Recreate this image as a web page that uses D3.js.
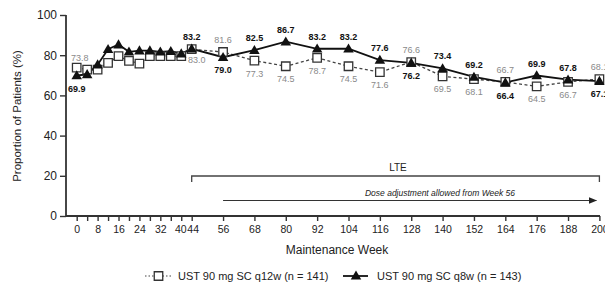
<!DOCTYPE html>
<html><head><meta charset="utf-8">
<script src="https://cdn.jsdelivr.net/npm/d3@7"></script>
<style>
html,body{margin:0;padding:0;background:#fff;}
svg{display:block;font-family:"Liberation Sans",Arial,Helvetica,sans-serif;}
</style></head>
<body><svg id="c" width="605" height="282"></svg>
<script>
// ---- data ----
const weeks = [0,4,8,12,16,20,24,28,32,36,40,44,56,68,80,92,104,116,128,140,152,164,176,188,200];
const q12w = [73.8,72.8,72.8,76.2,79.5,77.2,75.8,79.5,79.5,79.5,79.5,83.0,81.6,77.3,74.5,78.7,74.5,71.6,76.6,69.5,68.1,66.7,64.5,66.7,68.1];
const q8w  = [69.9,70.5,75.3,83.0,85.3,81.7,82.3,82.3,81.7,82.0,80.8,83.2,79.0,82.5,86.7,83.2,83.2,77.6,76.2,73.4,69.2,66.4,69.9,67.8,67.1];
const labeledWeeks = [0,44,56,68,80,92,104,116,128,140,152,164,176,188,200];
const xTickWeeks = [0,4,8,12,16,20,24,28,32,36,40,44,56,68,80,92,104,116,128,140,152,164,176,188,200];
const xTickLabels = [0,8,16,24,32,40,44,56,68,80,92,104,116,128,140,152,164,176,188,200];
const yTicks = [0,20,40,60,80,100];
const seriesNames = ["UST 90 mg SC q12w (n = 141)","UST 90 mg SC q8w (n = 143)"];
// label placement (layout): a = above, b = below, r = below-right
const q12wPlace = ["a","r","a","b","b","b","b","b","a","b","b","a","b","b","a"];
const q8wPlace  = ["b","a","b","a","a","a","a","a","b","a","a","b","a","a","b"];

const svg = d3.select("#c");
const x = d3.scaleLinear().domain([0,200]).range([76.7,599.4]);
const y = d3.scaleLinear().domain([0,100]).range([216,15]);
const axisCol = "#333";

// y axis
const ya = svg.append("g").attr("transform","translate(66,0)")
  .call(d3.axisLeft(y).tickValues(yTicks).tickSize(6).tickPadding(3));
ya.select(".domain").attr("stroke",axisCol).attr("stroke-width",1.8).attr("d","M0,15V216");
ya.selectAll(".tick line").attr("stroke",axisCol).attr("stroke-width",1.4);
ya.selectAll(".tick text").attr("font-size",12).attr("fill","#222").attr("font-family","Liberation Sans, Arial, sans-serif");

// x axis
const xa = svg.append("g").attr("transform","translate(0,216)")
  .call(d3.axisBottom(x).tickValues(xTickWeeks).tickSize(5).tickPadding(5)
    .tickFormat(d => xTickLabels.includes(d) ? d : ""));
xa.select(".domain").attr("stroke",axisCol).attr("stroke-width",1.8).attr("d","M66,0H600");
xa.selectAll(".tick line").attr("stroke",axisCol).attr("stroke-width",1.4);
xa.selectAll(".tick text").attr("font-size",10.5).attr("fill","#222").attr("font-family","Liberation Sans, Arial, sans-serif");
xa.selectAll(".tick text").filter(d=>d===40).attr("dx",-1);
xa.selectAll(".tick text").filter(d=>d===44).attr("dx",1);

// axis titles
svg.append("text").attr("x",337).attr("y",254).attr("text-anchor","middle")
  .attr("font-size",12).attr("fill","#222").text("Maintenance Week");
svg.append("text").attr("transform","translate(21,116) rotate(-90)").attr("text-anchor","middle")
  .attr("font-size",11.5).attr("fill","#222").text("Proportion of Patients (%)");

// LTE bracket
svg.append("path").attr("fill","none").attr("stroke","#444").attr("stroke-width",1.3)
  .attr("d",`M${x(44)},182V176H${x(200)}V182`);
svg.append("text").attr("x",398).attr("y",171).attr("text-anchor","middle")
  .attr("font-size",10).attr("fill","#222").text("LTE");
// arrow
svg.append("defs").append("marker").attr("id","ah").attr("viewBox","0 0 10 10")
  .attr("refX",9).attr("refY",5).attr("markerWidth",7).attr("markerHeight",7).attr("orient","auto")
  .append("path").attr("d","M0,1L10,5L0,9Z").attr("fill","#222");
svg.append("line").attr("x1",x(56)).attr("x2",x(200)-3).attr("y1",200.5).attr("y2",200.5)
  .attr("stroke","#333").attr("stroke-width",1.2).attr("marker-end","url(#ah)");
svg.append("text").attr("x",440).attr("y",196).attr("text-anchor","middle")
  .attr("font-size",8.5).attr("font-style","italic").attr("fill","#222").text("Dose adjustment allowed from Week 56");

// lines
const line = d3.line().x(d=>x(d[0])).y(d=>y(d[1]));
const d12 = weeks.map((w,i)=>[w,q12w[i]]);
const d8 = weeks.map((w,i)=>[w,q8w[i]]);
svg.append("path").datum(d12).attr("d",line).attr("fill","none").attr("stroke","#444")
  .attr("stroke-width",1.3).attr("stroke-dasharray","3,2.5");
svg.append("path").datum(d8).attr("d",line).attr("fill","none").attr("stroke","#111")
  .attr("stroke-width",1.8);

// markers
const sq = d3.symbol().type(d3.symbolSquare).size(72);
const tri = d3.symbol().type(d3.symbolTriangle).size(48);
svg.append("g").selectAll("path").data(d12).join("path")
  .attr("transform",d=>`translate(${x(d[0])},${y(d[1])})`).attr("d",sq)
  .attr("fill","#fff").attr("stroke","#333").attr("stroke-width",1.3);
svg.append("g").selectAll("path").data(d8).join("path")
  .attr("transform",d=>`translate(${x(d[0])},${y(d[1])+0.8})`).attr("d",tri)
  .attr("fill","#111");

// value labels
function labels(data, place, color, weight){
  const g = svg.append("g");
  labeledWeeks.forEach((w,j)=>{
    const i = weeks.indexOf(w);
    const v = data[i];
    const p = place[j];
    let dx = 0, dy = 0;
    if(p==="a") dy = -9;
    else if(p==="b") dy = 16;
    else { dx = 5; dy = 14; }
    if(w===0 && p==="a"){ dx = 3; dy = -7; }
    g.append("text").attr("x",x(w)+dx).attr("y",y(v)+dy).attr("text-anchor","middle")
      .attr("font-size",9).attr("font-weight",weight).attr("fill",color).text(v.toFixed(1));
  });
}
labels(q12w, q12wPlace, "#8a8a8a", "normal");
labels(q8w, q8wPlace, "#111", "bold");

// legend
const lg = svg.append("g");
lg.append("line").attr("x1",145).attr("x2",172).attr("y1",276).attr("y2",276)
  .attr("stroke","#444").attr("stroke-width",1.2).attr("stroke-dasharray","1.5,2");
lg.append("path").attr("transform","translate(158.5,276)").attr("d",sq).attr("fill","#fff")
  .attr("stroke","#333").attr("stroke-width",1.3);
lg.append("text").attr("x",178).attr("y",280).attr("font-size",11).attr("fill","#222").text(seriesNames[0]);
lg.append("line").attr("x1",343).attr("x2",368).attr("y1",276).attr("y2",276)
  .attr("stroke","#111").attr("stroke-width",1.8);
lg.append("path").attr("transform","translate(356,276.5)").attr("d",tri).attr("fill","#111");
lg.append("text").attr("x",377).attr("y",280).attr("font-size",11).attr("fill","#222").text(seriesNames[1]);
</script></body></html>
